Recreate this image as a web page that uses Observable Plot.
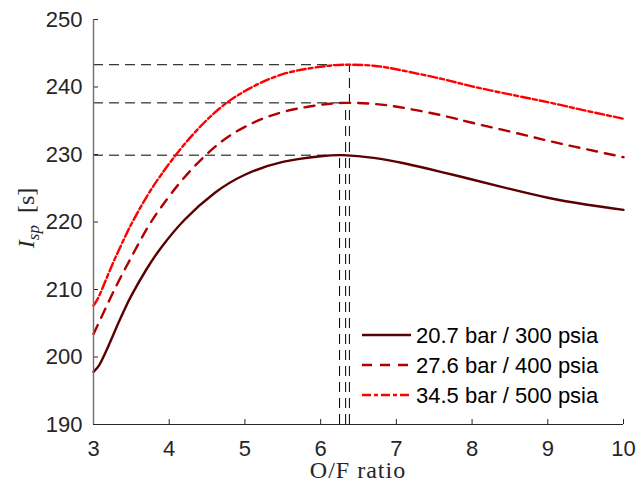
<!DOCTYPE html>
<html>
<head>
<meta charset="utf-8">
<script src="https://cdn.jsdelivr.net/npm/d3@7"></script>
<script src="https://cdn.jsdelivr.net/npm/@observablehq/plot@0.6"></script>
<style>
  html, body { margin: 0; padding: 0; background: #fff; }
  #chart svg { display: block; }
</style>
</head>
<body>
<div id="chart"></div>
<script>
// Oxidizer-to-fuel mass ratio sampled along each curve
const ofRatio = [3.0, 3.05, 3.1, 3.2, 3.3, 3.4, 3.5, 3.7, 3.9, 4.2, 4.6, 5.0, 5.5, 6.0, 6.3, 6.7, 7.1, 7.6, 8.0, 8.5, 9.0, 9.5, 10.0];

// Specific impulse [s] at each chamber pressure
const isp300 = [197.8, 198.4, 199.3, 201.7, 204.3, 206.8, 209.1, 213.0, 216.3, 220.3, 224.3, 227.0, 228.9, 229.75, 229.9, 229.5, 228.7, 227.4, 226.3, 224.9, 223.6, 222.6, 221.8];
const isp400 = [203.4, 204.6, 205.8, 208.2, 210.5, 212.7, 214.8, 218.9, 222.3, 226.6, 231.1, 234.1, 236.3, 237.35, 237.65, 237.5, 236.9, 235.8, 234.7, 233.4, 232.05, 230.8, 229.6];
const isp500 = [207.6, 208.5, 209.7, 212.4, 215.0, 217.4, 219.7, 223.7, 227.1, 231.5, 236.2, 239.4, 241.9, 243.0, 243.3, 243.15, 242.4, 241.2, 240.1, 238.9, 237.75, 236.5, 235.3];

// Legend entries
const seriesLabels = ["20.7 bar / 300 psia", "27.6 bar / 400 psia", "34.5 bar / 500 psia"];

// Optimum O/F ratio and the peak Isp for each pressure
const peakRatio = [6.25, 6.33, 6.38];
const peakIsp = [229.9, 237.65, 243.3];

// Tick labels
const xTicks = [3, 4, 5, 6, 7, 8, 9, 10];
const yTicks = [190, 200, 210, 220, 230, 240, 250];

const xDomain = [3, 10];
const yDomain = [190, 250];

// Line styles per series
const seriesStyle = [
  {stroke: "#5a0000", dash: null},
  {stroke: "#b00000", dash: "10,8"},
  {stroke: "#ff0000", dash: "9,3,4,3"}
];

const seriesValues = [isp300, isp400, isp500];
const curves = seriesValues.map((vals) => ofRatio.map((r, i) => ({ratio: r, isp: vals[i]})));
const peaks = peakRatio.map((r, i) => ({ratio: r, isp: peakIsp[i]}));

const refStyle = {stroke: "#000", strokeWidth: 1, strokeDasharray: "10,6"};

const chart = Plot.plot({
  width: 636,
  height: 491,
  marginLeft: 93,
  marginRight: 13,
  marginTop: 19,
  marginBottom: 67,
  style: {
    fontFamily: "'Liberation Sans', Arial, Helvetica, sans-serif",
    fontSize: "22px",
    color: "#262626",
    background: "#fff",
    overflow: "visible"
  },
  x: {domain: xDomain, label: null},
  y: {domain: yDomain, label: null},
  marks: [
    // guide lines to the optimum of each curve
    Plot.ruleY(peaks, {y: "isp", x1: xDomain[0], x2: "ratio", ...refStyle}),
    Plot.ruleX(peaks, {x: "ratio", y1: yDomain[0], y2: "isp", ...refStyle}),
    // Isp curves
    ...curves.map((data, k) => Plot.line(data, {
      x: "ratio",
      y: "isp",
      stroke: seriesStyle[k].stroke,
      strokeWidth: 2.4,
      strokeDasharray: seriesStyle[k].dash,
      curve: "natural"
    })),
    // axes with inward ticks
    Plot.axisX({ticks: xTicks, tickFormat: d3.format("d"), tickSize: -5, tickPadding: 21, stroke: "#262626", fill: "#262626"}),
    Plot.axisY({ticks: yTicks, tickFormat: d3.format("d"), tickSize: -5, tickPadding: 16, stroke: "#262626", fill: "#262626"}),
    Plot.ruleX([xDomain[0]], {stroke: "#6e6e6e", strokeWidth: 1.4}),
    Plot.ruleY([yDomain[0]], {stroke: "#262626", strokeWidth: 1})
  ]
});

document.getElementById("chart").appendChild(chart);

const svg = d3.select(chart);

// x-axis title
svg.append("text")
  .attr("x", 358)
  .attr("y", 478)
  .attr("text-anchor", "middle")
  .attr("font-family", "'Liberation Serif', 'Times New Roman', serif")
  .attr("font-size", 24)
  .attr("letter-spacing", 1)
  .attr("fill", "#262626")
  .text("O/F ratio");

// y-axis title: I_sp [s]
const yTitle = svg.append("text")
  .attr("transform", "translate(34,218) rotate(-90)")
  .attr("text-anchor", "middle")
  .attr("font-family", "'Liberation Serif', 'Times New Roman', serif")
  .attr("font-size", 24)
  .attr("fill", "#262626");
yTitle.append("tspan").attr("font-style", "italic").text("I");
yTitle.append("tspan").attr("font-style", "italic").attr("font-size", 17).attr("dy", 5).text("sp");
yTitle.append("tspan").attr("dy", -5).text("\u2002[s]");

// legend
const legend = svg.append("g").attr("text-anchor", "start");
seriesLabels.forEach((label, k) => {
  const y = 335 + k * 30;
  legend.append("line")
    .attr("x1", 362).attr("x2", 411)
    .attr("y1", y).attr("y2", y)
    .attr("stroke", seriesStyle[k].stroke)
    .attr("stroke-width", 2.4)
    .attr("stroke-dasharray", seriesStyle[k].dash);
  legend.append("text")
    .attr("x", 416)
    .attr("y", y)
    .attr("dy", "0.36em")
    .attr("text-anchor", "start")
    .attr("font-size", 22)
    .attr("fill", "#000")
    .text(label);
});
</script>
</body>
</html>
